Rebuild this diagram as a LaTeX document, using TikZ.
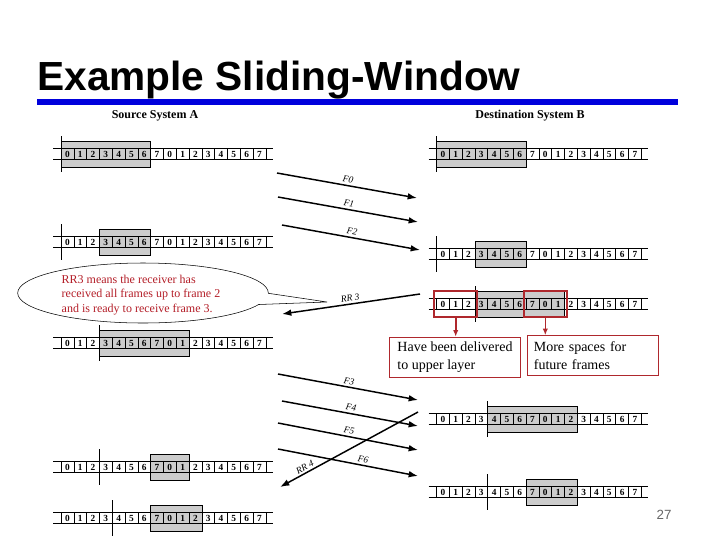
\documentclass[tikz,border=0pt]{standalone}
\usepackage{fontspec}
\setmainfont{Liberation Serif}
\newfontfamily\titlefont{Liberation Sans}
\usetikzlibrary{arrows.meta,shapes.callouts,fit}
\definecolor{slideblue}{RGB}{0,0,220}
\definecolor{notered}{RGB}{180,30,40}
\definecolor{boxred}{RGB}{175,40,45}

\begin{document}
\begin{tikzpicture}[x=0.75pt,y=-0.75pt,>={Latex[length=7pt,width=5pt]},
    cell/.style={draw,minimum width=9.6pt,minimum height=8.25pt,inner sep=0pt,
      font=\fontsize{7}{8}\selectfont\bfseries},
    shade/.style={draw,fill=black!20},
    frm/.style={->,line width=1.1pt},
    frmlabel/.style={font=\fontsize{7}{8}\selectfont\itshape,sloped,above,inner sep=1.5pt},
    redbox/.style={draw=boxred,line width=1.4pt,inner xsep=1.5pt,inner ysep=5.6pt},
    textbox/.style={draw=boxred,fill=white,align=left,minimum width=98pt,
      minimum height=30pt,font=\fontsize{10.5}{13}\selectfont}]
  \useasboundingbox (0,0) rectangle (720,540);

  % title and bar
  \node[anchor=base west,inner sep=0pt,font=\titlefont\fontsize{30.5}{36}\selectfont\bfseries]
    (title) at (37,90) {Example Sliding-Window};
  \fill[slideblue] (37,99) rectangle (678,105);

  \node[font=\fontsize{9}{10}\selectfont\bfseries] (srcA) at (155,116) {Source System A};
  \node[font=\fontsize{9}{10}\selectfont\bfseries] (dstB) at (530,116) {Destination System B};

  % the ten window strips: name / cell 0 left / y / edge / shaded from / to
  \foreach \nm/\xo/\yo/\mk/\ga/\gb in {L1/61/154/0/0/7, L2/61/242/0/3/7,
      L3/61/343/3/3/10, L4/61/467/3/7/10, L5/61/518/4/7/11,
      R1/436.5/154/0/0/7, R2/436.5/254/0/3/7, R3/436.5/304/3/3/10,
      R4/436.5/419/4/4/11, R5/436.5/492/4/7/11}{
    \filldraw[shade] ({\xo+\ga*12.8},\yo-13) rectangle ({\xo+\gb*12.8},\yo+13);
    \draw ({\xo-8},\yo-5.5) -- ({\xo+211.8},\yo-5.5)
          ({\xo-8},\yo+5.5) -- ({\xo+211.8},\yo+5.5);
    \foreach \i [evaluate=\i as \lab using {int(mod(\i,8))}] in {0,...,15}
      \node[cell] (\nm-\i) at ({\xo+(\i+0.5)*12.8},\yo) {\lab};
    \draw ({\xo+\mk*12.8},\yo-18) -- ({\xo+\mk*12.8},\yo+18);
  }

  % frames and acknowledgements
  \foreach \nm/\txt/\xa/\ya/\xb/\yb/\p in {f0/F0/277/173/417/198/0.5,
      f1/F1/278/197/418/222/0.5, f2/F2/282/225/420/250/0.5,
      rr3/RR 3/420/294/282/314/0.5, f3/F3/278/374/418/400/0.5,
      f4/F4/282/401/418/426/0.5, f5/F5/278/423/418/450/0.5,
      f6/F6/278/449/418/476/0.6, rr4/RR 4/418/412/280/487/0.8}{
    \coordinate (\nm a) at (\xa,\ya);
    \coordinate (\nm b) at (\xb,\yb);
    \draw[frm] (\nm a) -- node[frmlabel,pos=\p] (\nm lab) {\txt} (\nm b);
  }

  % callout
  \node[ellipse callout,draw,fill=white,minimum width=188pt,minimum height=45pt,
    callout pointer arc=22,callout absolute pointer={(327,302)}] (note) at (143,293) {};
  \node[align=left,text=notered,font=\fontsize{9}{10.8}\selectfont] (notetext) at (141,295)
    {RR3 means the receiver has\\received all frames up to frame 2\\and is ready to receive frame 3.};

  % red marks on the receiver window
  \node[redbox,fit=(R3-0)(R3-2)] (delivbox) {};
  \node[redbox,fit=(R3-7)(R3-9)] (futbox) {};
  \node[textbox] (delivered) at (455,357) {Have been delivered\\to upper layer};
  \node[textbox,text width=88pt,inner xsep=5pt] (future) at (592.5,355.5)
    {More spaces for\\future frames};
  \draw[->,>={Latex[length=5pt,width=4pt]},boxred,line width=1.2pt]
    (delivbox.south) -- (delivbox.south |- delivered.north);
  \draw[->,>={Latex[length=5pt,width=4pt]},boxred,line width=1.2pt]
    (futbox.south) -- (futbox.south |- future.north);

  \node[font=\titlefont\fontsize{10}{12}\selectfont,text=black!60] (pagenum) at (664,515) {27};
\end{tikzpicture}
\end{document}
